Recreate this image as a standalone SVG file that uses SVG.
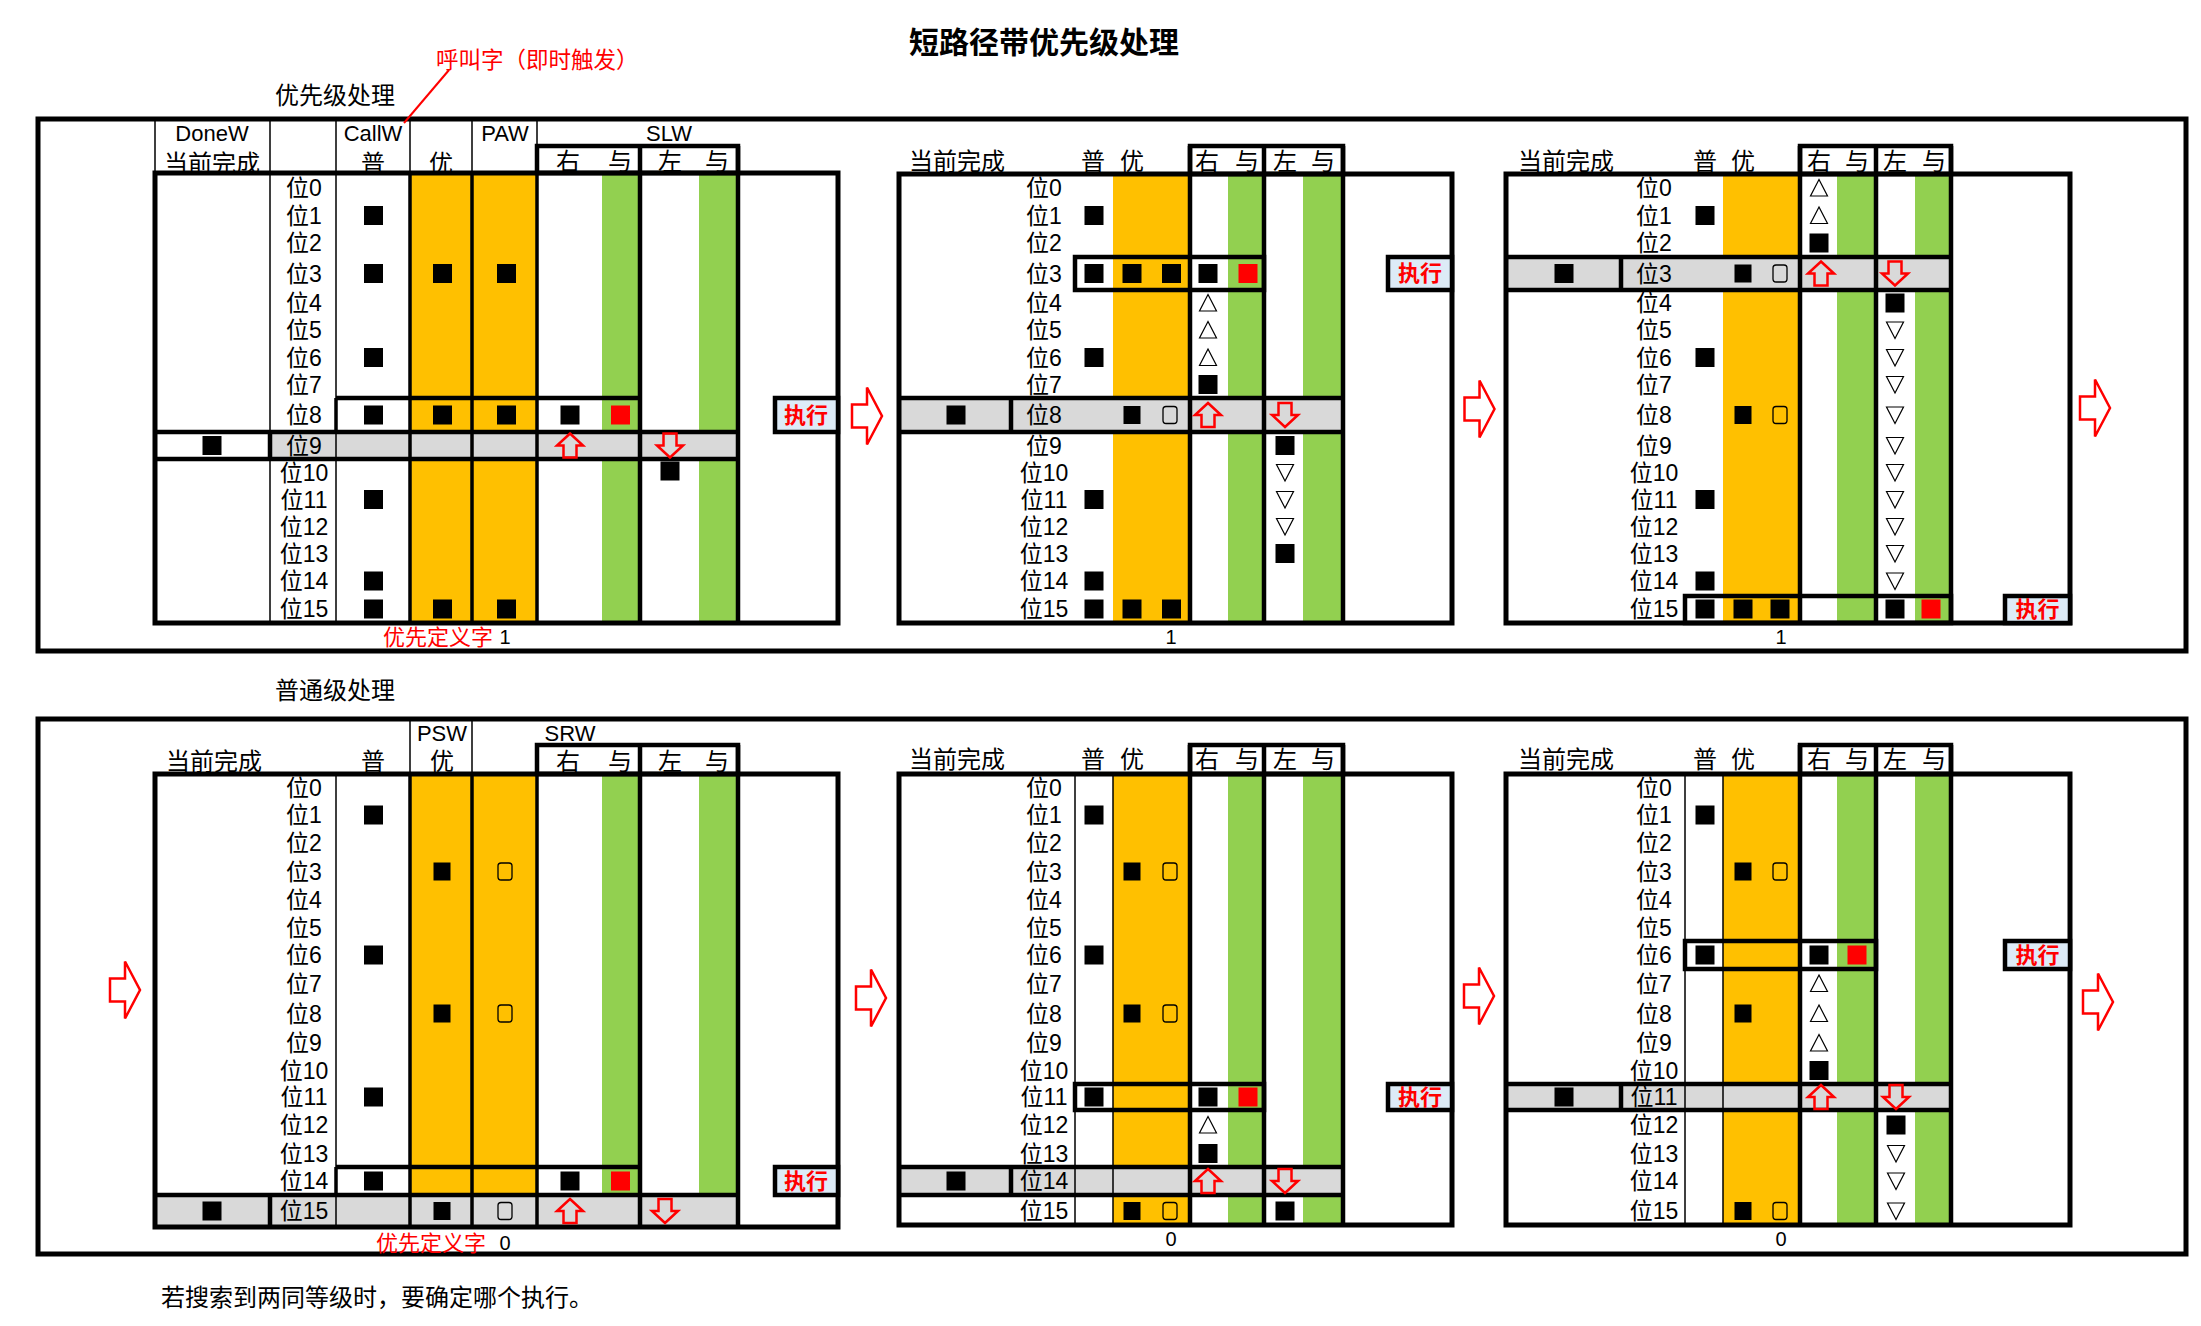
<svg xmlns="http://www.w3.org/2000/svg" xmlns:xlink="http://www.w3.org/1999/xlink" width="2201" height="1326" viewBox="0 0 2201 1326">
<style>
.t{font-family:'Liberation Sans','Noto Sans CJK SC',sans-serif;fill:#000;text-anchor:middle;dominant-baseline:central}
.h{font-size:24px}
.hl{font-size:22px}
.l{font-size:23px}
.n{font-size:20px}
.ex{font-size:22px;font-weight:bold;fill:#FF0000}
.red{fill:#FF0000}
.or{fill:#FFC000}
.gr{fill:#92D050}
.gy{fill:#D9D9D9}
.tn{stroke:#000;stroke-width:1.5;fill:none}
.md{stroke:#000;stroke-width:3.5;fill:none}
.tk{stroke:#000;stroke-width:4.5;fill:none}
.bx{fill:#DDEBF7;stroke:#000;stroke-width:4.5}
.ob{fill:none;stroke:#000;stroke-width:5}
</style>
<defs>
<rect id="sq" x="-9.5" y="-9.5" width="19" height="19" fill="#000"/>
<rect id="sq2" x="-8.5" y="-9" width="17" height="18" fill="#000"/>
<rect id="rsq" x="-9.5" y="-9.5" width="19" height="19" fill="#FF0000"/>
<rect id="osq" x="-7" y="-8.5" width="14" height="17" rx="3" fill="none" stroke="#000" stroke-width="1.3"/>
<path id="tu" d="M0,-8.5L8.5,8L-8.5,8Z" fill="none" stroke="#000" stroke-width="1.2"/>
<path id="td" d="M0,8.5L8.5,-8L-8.5,-8Z" fill="none" stroke="#000" stroke-width="1.2"/>
<path id="up" d="M0,-12L13,0H6.5V12H-6.5V0H-13Z" fill="none" stroke="#FF0000" stroke-width="2.5"/>
<path id="dn" d="M0,12L13,0H6.5V-12H-6.5V0H-13Z" fill="none" stroke="#FF0000" stroke-width="2.5"/>
<path id="ra" d="M-15,-11.5H0V-28.5L15,0L0,28.5V11.5H-15Z" fill="#fff" stroke="#FF0000" stroke-width="2.5"/>
</defs>
<rect x="0" y="0" width="2201" height="1326" fill="#fff"/>

<g id="titles">
<text class="t" x="1044" y="42" style="font-size:30px;font-weight:bold">短路径带优先级处理</text>
<text class="t" x="275" y="95" style="font-size:24px;text-anchor:start">优先级处理</text>
<text class="t red" x="436" y="60" style="font-size:22.5px;text-anchor:start">呼叫字（即时触发）</text>
<text class="t" x="275" y="690" style="font-size:24px;text-anchor:start">普通级处理</text>
<text class="t" x="161" y="1297" style="font-size:24px;text-anchor:start">若搜索到两同等级时，要确定哪个执行。</text>
</g>

<g id="frame-top"><rect class="ob" x="38" y="119" width="2148" height="532"/></g>
<g id="frame-bottom"><rect class="ob" x="38" y="719" width="2148" height="535"/></g>

<!-- Panel 1 -->
<g id="panel-p1">
<rect class="or" x="410" y="173" width="127" height="450"/>
<rect class="gr" x="602" y="173" width="38" height="450"/>
<rect class="gr" x="699" y="173" width="39" height="450"/>
<rect class="gy" x="270" y="432" width="468" height="27"/>
<path class="tn" d="M155,119V173M270,119V623M336,119V623M410,119V173M472,119V173M537,119V146"/>
<path class="md" d="M410,173V623M472,173V623M537,173V623M336,398V432"/>
<path class="tk" d="M640,146V623M738,146V623M336,398H640M155,432H738M155,459H738M270,432V459"/>
<rect class="tk" x="537" y="146" width="201" height="27"/>
<rect class="tk" x="155" y="173" width="683" height="450" style="stroke-width:5"/>
<rect class="bx" x="775" y="398" width="63" height="34"/>
<text class="t ex" x="806" y="415">执行</text>
<text class="t hl" x="212" y="133">DoneW</text>
<text class="t h" x="212" y="163">当前完成</text>
<text class="t hl" x="373" y="133">CallW</text>
<text class="t h" x="373" y="163">普</text>
<text class="t h" x="441" y="163">优</text>
<text class="t hl" x="505" y="133">PAW</text>
<text class="t hl" x="669" y="133">SLW</text>
<text class="t h" x="568" y="161">右</text><text class="t h" x="620" y="161">与</text>
<text class="t h" x="670" y="161">左</text><text class="t h" x="717" y="161">与</text>
<text class="t l" x="304" y="188">位0</text><text class="t l" x="304" y="215.5">位1</text>
<text class="t l" x="304" y="243">位2</text><text class="t l" x="304" y="273.5">位3</text>
<text class="t l" x="304" y="303">位4</text><text class="t l" x="304" y="330">位5</text>
<text class="t l" x="304" y="357.5">位6</text><text class="t l" x="304" y="384.5">位7</text>
<text class="t l" x="304" y="415">位8</text><text class="t l" x="304" y="445.5">位9</text>
<text class="t l" x="304" y="472.5">位10</text><text class="t l" x="304" y="499.5">位11</text>
<text class="t l" x="304" y="526.5">位12</text><text class="t l" x="304" y="553.5">位13</text>
<text class="t l" x="304" y="581">位14</text><text class="t l" x="304" y="609">位15</text>
<use href="#sq" x="373.5" y="215.5"/>
<use href="#sq" x="373.5" y="273.5"/><use href="#sq" x="442.5" y="273.5"/><use href="#sq" x="506.5" y="273.5"/>
<use href="#sq" x="373.5" y="357.5"/>
<use href="#sq" x="373.5" y="415"/><use href="#sq" x="442.5" y="415"/><use href="#sq" x="506.5" y="415"/><use href="#sq" x="570" y="415"/><use href="#rsq" x="620.5" y="415"/>
<use href="#sq" x="212" y="445.5"/><use href="#up" x="570" y="445.5"/><use href="#dn" x="670" y="445.5"/>
<use href="#sq" x="670" y="471"/>
<use href="#sq" x="373.5" y="499.5"/>
<use href="#sq" x="373.5" y="581"/>
<use href="#sq" x="373.5" y="609"/><use href="#sq" x="442.5" y="609"/><use href="#sq" x="506.5" y="609"/>
<text class="t red" x="383" y="637" style="font-size:22px;text-anchor:start">优先定义字</text>
<text class="t n" x="505" y="637">1</text>
</g>

<!-- Panel 2 -->
<g id="panel-p2">
<rect class="or" x="1113" y="174" width="77" height="449"/>
<rect class="gr" x="1228" y="174" width="36" height="449"/>
<rect class="gr" x="1303" y="174" width="40" height="449"/>
<rect class="gy" x="899" y="398" width="444" height="34"/>
<path class="tk" d="M1190,146V623M1264,146V623M1343,146V623M899,398H1343M899,432H1343M1011,398V432"/>
<rect class="tk" x="1075" y="257" width="189" height="33"/>
<rect class="tk" x="1190" y="146" width="153" height="28"/>
<rect class="tk" x="899" y="174" width="553" height="449" style="stroke-width:5"/>
<rect class="bx" x="1388" y="257" width="64" height="33"/>
<text class="t ex" x="1420" y="273.5">执行</text>
<text class="t h" x="957" y="161">当前完成</text>
<text class="t h" x="1093" y="161">普</text><text class="t h" x="1132" y="161">优</text>
<text class="t h" x="1207" y="161">右</text><text class="t h" x="1247" y="161">与</text>
<text class="t h" x="1285" y="161">左</text><text class="t h" x="1323" y="161">与</text>
<text class="t l" x="1044" y="188">位0</text><text class="t l" x="1044" y="215.5">位1</text>
<text class="t l" x="1044" y="243">位2</text><text class="t l" x="1044" y="273.5">位3</text>
<text class="t l" x="1044" y="303">位4</text><text class="t l" x="1044" y="330">位5</text>
<text class="t l" x="1044" y="357.5">位6</text><text class="t l" x="1044" y="384.5">位7</text>
<text class="t l" x="1044" y="415">位8</text><text class="t l" x="1044" y="445.5">位9</text>
<text class="t l" x="1044" y="472.5">位10</text><text class="t l" x="1044" y="499.5">位11</text>
<text class="t l" x="1044" y="526.5">位12</text><text class="t l" x="1044" y="553.5">位13</text>
<text class="t l" x="1044" y="581">位14</text><text class="t l" x="1044" y="609">位15</text>
<use href="#sq" x="1094" y="215.5"/>
<use href="#sq" x="1094" y="273.5"/><use href="#sq" x="1132" y="273.5"/><use href="#sq" x="1171.5" y="273.5"/><use href="#sq" x="1208" y="273.5"/><use href="#rsq" x="1248" y="273.5"/>
<use href="#tu" x="1208" y="303"/><use href="#tu" x="1208" y="330"/><use href="#tu" x="1208" y="357.5"/>
<use href="#sq" x="1094" y="357.5"/>
<use href="#sq" x="1208" y="384.5"/>
<use href="#sq" x="956" y="415"/><use href="#sq2" x="1132" y="415"/><use href="#osq" x="1170" y="415"/><use href="#up" x="1208" y="415"/><use href="#dn" x="1285" y="415"/>
<use href="#sq" x="1285" y="445.5"/>
<use href="#td" x="1285" y="472.5"/><use href="#td" x="1285" y="499.5"/><use href="#td" x="1285" y="526.5"/>
<use href="#sq" x="1094" y="499.5"/>
<use href="#sq" x="1285" y="553.5"/>
<use href="#sq" x="1094" y="581"/>
<use href="#sq" x="1094" y="609"/><use href="#sq" x="1132" y="609"/><use href="#sq" x="1171.5" y="609"/>
<text class="t n" x="1171" y="637">1</text>
</g>

<!-- Panel 3 -->
<g id="panel-p3">
<rect class="or" x="1723" y="174" width="77" height="449"/>
<rect class="gr" x="1837" y="174" width="39" height="449"/>
<rect class="gr" x="1915" y="174" width="36" height="449"/>
<rect class="gy" x="1506" y="257" width="445" height="33"/>
<path class="tk" d="M1800,146V623M1876,146V623M1951,146V623M1506,257H1951M1506,290H1951M1621,257V290"/>
<rect class="tk" x="1685" y="596" width="266" height="27"/>
<rect class="tk" x="1800" y="146" width="151" height="28"/>
<rect class="tk" x="1506" y="174" width="564" height="449" style="stroke-width:5"/>
<rect class="bx" x="2005" y="596" width="65" height="27"/>
<text class="t ex" x="2037.5" y="609.5">执行</text>
<text class="t h" x="1566" y="161">当前完成</text>
<text class="t h" x="1705" y="161">普</text><text class="t h" x="1743" y="161">优</text>
<text class="t h" x="1819" y="161">右</text><text class="t h" x="1857" y="161">与</text>
<text class="t h" x="1895" y="161">左</text><text class="t h" x="1934" y="161">与</text>
<text class="t l" x="1654" y="188">位0</text><text class="t l" x="1654" y="215.5">位1</text>
<text class="t l" x="1654" y="243">位2</text><text class="t l" x="1654" y="273.5">位3</text>
<text class="t l" x="1654" y="303">位4</text><text class="t l" x="1654" y="330">位5</text>
<text class="t l" x="1654" y="357.5">位6</text><text class="t l" x="1654" y="384.5">位7</text>
<text class="t l" x="1654" y="415">位8</text><text class="t l" x="1654" y="445.5">位9</text>
<text class="t l" x="1654" y="472.5">位10</text><text class="t l" x="1654" y="499.5">位11</text>
<text class="t l" x="1654" y="526.5">位12</text><text class="t l" x="1654" y="553.5">位13</text>
<text class="t l" x="1654" y="581">位14</text><text class="t l" x="1654" y="609">位15</text>
<use href="#tu" x="1819" y="188"/><use href="#tu" x="1819" y="215.5"/><use href="#sq" x="1705" y="215.5"/>
<use href="#sq" x="1819" y="243"/>
<use href="#sq" x="1564" y="273.5"/><use href="#sq2" x="1743" y="273.5"/><use href="#osq" x="1780" y="273.5"/><use href="#up" x="1821" y="273.5"/><use href="#dn" x="1895" y="273.5"/>
<use href="#sq" x="1895" y="303"/>
<use href="#td" x="1895" y="330"/><use href="#td" x="1895" y="357.5"/><use href="#td" x="1895" y="384.5"/><use href="#td" x="1895" y="415"/><use href="#td" x="1895" y="445.5"/>
<use href="#td" x="1895" y="472.5"/><use href="#td" x="1895" y="499.5"/><use href="#td" x="1895" y="526.5"/><use href="#td" x="1895" y="553.5"/><use href="#td" x="1895" y="581"/>
<use href="#sq" x="1705" y="357.5"/><use href="#sq" x="1705" y="499.5"/><use href="#sq" x="1705" y="581"/>
<use href="#sq2" x="1743" y="415"/><use href="#osq" x="1780" y="415"/>
<use href="#sq" x="1705" y="609"/><use href="#sq" x="1743" y="609"/><use href="#sq" x="1780" y="609"/><use href="#sq" x="1895" y="609"/><use href="#rsq" x="1931" y="609"/>
<text class="t n" x="1781" y="637">1</text>
</g>

<!-- Panel 4 -->
<g id="panel-p4">
<rect class="or" x="410" y="774" width="127" height="453"/>
<rect class="gr" x="602" y="774" width="38" height="453"/>
<rect class="gr" x="699" y="774" width="39" height="453"/>
<rect class="gy" x="155" y="1195" width="583" height="32"/>
<path class="tn" d="M410,719V774M472,719V774M336,774V1227"/>
<path class="md" d="M410,774V1227M472,774V1227M537,774V1227M336,1167V1195"/>
<path class="tk" d="M640,745V1227M738,745V1227M336,1167H640M155,1195H738M270,1195V1227"/>
<rect class="tk" x="537" y="745" width="201" height="29"/>
<rect class="tk" x="155" y="774" width="683" height="453" style="stroke-width:5"/>
<rect class="bx" x="775" y="1167" width="63" height="28"/>
<text class="t ex" x="806" y="1181">执行</text>
<text class="t h" x="214" y="761">当前完成</text>
<text class="t h" x="373" y="761">普</text>
<text class="t hl" x="442" y="733">PSW</text>
<text class="t h" x="442" y="761">优</text>
<text class="t hl" x="570" y="733">SRW</text>
<text class="t h" x="568" y="761">右</text><text class="t h" x="620" y="761">与</text>
<text class="t h" x="670" y="761">左</text><text class="t h" x="717" y="761">与</text>
<text class="t l" x="304" y="787.5">位0</text><text class="t l" x="304" y="815">位1</text>
<text class="t l" x="304" y="843">位2</text><text class="t l" x="304" y="871.5">位3</text>
<text class="t l" x="304" y="900">位4</text><text class="t l" x="304" y="927.5">位5</text>
<text class="t l" x="304" y="955">位6</text><text class="t l" x="304" y="983.5">位7</text>
<text class="t l" x="304" y="1013.5">位8</text><text class="t l" x="304" y="1043">位9</text>
<text class="t l" x="304" y="1070.5">位10</text><text class="t l" x="304" y="1097">位11</text>
<text class="t l" x="304" y="1125">位12</text><text class="t l" x="304" y="1153.5">位13</text>
<text class="t l" x="304" y="1181">位14</text><text class="t l" x="304" y="1211">位15</text>
<use href="#sq" x="373.5" y="815"/>
<use href="#sq2" x="442" y="871.5"/><use href="#osq" x="505" y="871.5"/>
<use href="#sq" x="373.5" y="955"/>
<use href="#sq2" x="442" y="1013.5"/><use href="#osq" x="505" y="1013.5"/>
<use href="#sq" x="373.5" y="1097"/>
<use href="#sq" x="373.5" y="1181"/><use href="#sq" x="570" y="1181"/><use href="#rsq" x="620.5" y="1181"/>
<use href="#sq" x="212" y="1211"/><use href="#sq2" x="442" y="1211"/><use href="#osq" x="505" y="1211"/><use href="#up" x="570" y="1211"/><use href="#dn" x="665" y="1211"/>
<text class="t red" x="376" y="1243" style="font-size:22px;text-anchor:start">优先定义字</text>
<text class="t n" x="505" y="1243">0</text>
</g>

<!-- Panel 5 -->
<g id="panel-p5">
<rect class="or" x="1113" y="774" width="77" height="451"/>
<rect class="gr" x="1228" y="774" width="36" height="451"/>
<rect class="gr" x="1303" y="774" width="40" height="451"/>
<rect class="gy" x="899" y="1167" width="444" height="28"/>
<path class="tn" d="M1075,774V1225M1113,774V1225"/>
<path class="tk" d="M1190,745V1225M1264,745V1225M1343,745V1225M899,1167H1343M899,1195H1343M1011,1167V1195"/>
<rect class="tk" x="1075" y="1084" width="189" height="26"/>
<rect class="tk" x="1190" y="745" width="153" height="29"/>
<rect class="tk" x="899" y="774" width="553" height="451" style="stroke-width:5"/>
<rect class="bx" x="1388" y="1084" width="64" height="26"/>
<text class="t ex" x="1420" y="1097">执行</text>
<text class="t h" x="957" y="759">当前完成</text>
<text class="t h" x="1093" y="759">普</text><text class="t h" x="1132" y="759">优</text>
<text class="t h" x="1207" y="759">右</text><text class="t h" x="1247" y="759">与</text>
<text class="t h" x="1285" y="759">左</text><text class="t h" x="1323" y="759">与</text>
<text class="t l" x="1044" y="787.5">位0</text><text class="t l" x="1044" y="815">位1</text>
<text class="t l" x="1044" y="843">位2</text><text class="t l" x="1044" y="871.5">位3</text>
<text class="t l" x="1044" y="900">位4</text><text class="t l" x="1044" y="927.5">位5</text>
<text class="t l" x="1044" y="955">位6</text><text class="t l" x="1044" y="983.5">位7</text>
<text class="t l" x="1044" y="1013.5">位8</text><text class="t l" x="1044" y="1043">位9</text>
<text class="t l" x="1044" y="1070.5">位10</text><text class="t l" x="1044" y="1097">位11</text>
<text class="t l" x="1044" y="1125">位12</text><text class="t l" x="1044" y="1153.5">位13</text>
<text class="t l" x="1044" y="1181">位14</text><text class="t l" x="1044" y="1211">位15</text>
<use href="#sq" x="1094" y="815"/>
<use href="#sq2" x="1132" y="871.5"/><use href="#osq" x="1170" y="871.5"/>
<use href="#sq" x="1094" y="955"/>
<use href="#sq2" x="1132" y="1013.5"/><use href="#osq" x="1170" y="1013.5"/>
<use href="#sq" x="1094" y="1097"/><use href="#sq" x="1208" y="1097"/><use href="#rsq" x="1248" y="1097"/>
<use href="#tu" x="1208" y="1125"/>
<use href="#sq" x="1208" y="1153.5"/>
<use href="#sq" x="956" y="1181"/><use href="#up" x="1208" y="1181"/><use href="#dn" x="1285" y="1181"/>
<use href="#sq2" x="1132" y="1211"/><use href="#osq" x="1170" y="1211"/><use href="#sq" x="1285" y="1211"/>
<text class="t n" x="1171" y="1239">0</text>
</g>

<!-- Panel 6 -->
<g id="panel-p6">
<rect class="or" x="1723" y="774" width="77" height="451"/>
<rect class="gr" x="1837" y="774" width="39" height="451"/>
<rect class="gr" x="1915" y="774" width="36" height="451"/>
<rect class="gy" x="1506" y="1084" width="445" height="26"/>
<path class="tn" d="M1685,774V1225M1723,774V1225"/>
<path class="tk" d="M1800,745V1225M1876,745V1225M1951,745V1225M1506,1084H1951M1506,1110H1951M1621,1084V1110"/>
<rect class="tk" x="1685" y="941" width="191" height="28"/>
<rect class="tk" x="1800" y="745" width="151" height="29"/>
<rect class="tk" x="1506" y="774" width="564" height="451" style="stroke-width:5"/>
<rect class="bx" x="2005" y="941" width="65" height="28"/>
<text class="t ex" x="2037.5" y="955">执行</text>
<text class="t h" x="1566" y="759">当前完成</text>
<text class="t h" x="1705" y="759">普</text><text class="t h" x="1743" y="759">优</text>
<text class="t h" x="1819" y="759">右</text><text class="t h" x="1857" y="759">与</text>
<text class="t h" x="1895" y="759">左</text><text class="t h" x="1934" y="759">与</text>
<text class="t l" x="1654" y="787.5">位0</text><text class="t l" x="1654" y="815">位1</text>
<text class="t l" x="1654" y="843">位2</text><text class="t l" x="1654" y="871.5">位3</text>
<text class="t l" x="1654" y="900">位4</text><text class="t l" x="1654" y="927.5">位5</text>
<text class="t l" x="1654" y="955">位6</text><text class="t l" x="1654" y="983.5">位7</text>
<text class="t l" x="1654" y="1013.5">位8</text><text class="t l" x="1654" y="1043">位9</text>
<text class="t l" x="1654" y="1070.5">位10</text><text class="t l" x="1654" y="1097">位11</text>
<text class="t l" x="1654" y="1125">位12</text><text class="t l" x="1654" y="1153.5">位13</text>
<text class="t l" x="1654" y="1181">位14</text><text class="t l" x="1654" y="1211">位15</text>
<use href="#sq" x="1705" y="815"/>
<use href="#sq2" x="1743" y="871.5"/><use href="#osq" x="1780" y="871.5"/>
<use href="#sq" x="1705" y="955"/><use href="#sq" x="1819" y="955"/><use href="#rsq" x="1857" y="955"/>
<use href="#tu" x="1819" y="983.5"/><use href="#tu" x="1819" y="1013.5"/><use href="#tu" x="1819" y="1043"/>
<use href="#sq2" x="1743" y="1013.5"/>
<use href="#sq" x="1819" y="1070.5"/>
<use href="#sq" x="1564" y="1097"/><use href="#up" x="1821" y="1097"/><use href="#dn" x="1896" y="1097"/>
<use href="#sq" x="1896" y="1125"/>
<use href="#td" x="1896" y="1153.5"/><use href="#td" x="1896" y="1181"/><use href="#td" x="1896" y="1211"/>
<use href="#sq2" x="1743" y="1211"/><use href="#osq" x="1780" y="1211"/>
<text class="t n" x="1781" y="1239">0</text>
</g>

<g id="connectors">
<path d="M449,70L404,123" stroke="#FF0000" stroke-width="2" fill="none"/>
<use href="#ra" x="867" y="416"/>
<use href="#ra" x="1479.5" y="409"/>
<use href="#ra" x="2095" y="408"/>
<use href="#ra" x="125" y="990"/>
<use href="#ra" x="871" y="998"/>
<use href="#ra" x="1479" y="996"/>
<use href="#ra" x="2098" y="1002"/>
</g>
</svg>
